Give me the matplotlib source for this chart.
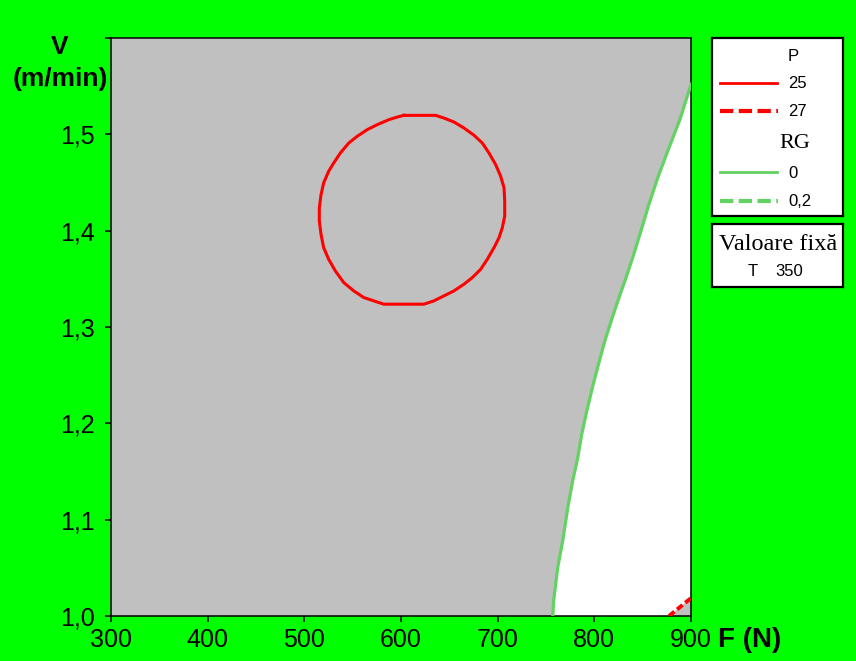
import matplotlib
matplotlib.use("Agg")
import matplotlib.pyplot as plt

# Contour P = 25 (closed curve), F in N, V in m/min
p25_F = [602.9, 635.8, 644.4, 654.8, 665.1, 675.5, 684.1, 691.0, 697.9, 703.1,
         706.6, 707.3, 707.3, 704.8, 701.4, 696.2, 689.3, 682.4, 673.8, 665.1,
         654.8, 644.4, 634.0, 623.7, 582.2, 571.9, 561.5, 551.1, 540.8, 532.1,
         525.2, 520.0, 517.3, 515.5, 515.5, 517.3, 520.0, 525.2, 530.4, 537.3,
         546.0, 554.6, 565.0, 575.3, 587.4, 596.0, 602.9]
p25_V = [1.5197, 1.5197, 1.5169, 1.5128, 1.5066, 1.4991, 1.4910, 1.4807, 1.4686, 1.4565,
         1.4444, 1.4306, 1.4151, 1.4030, 1.3927, 1.3823, 1.3703, 1.3599, 1.3513, 1.3444,
         1.3375, 1.3323, 1.3271, 1.3237, 1.3237, 1.3271, 1.3306, 1.3375, 1.3461, 1.3582,
         1.3703, 1.3823, 1.3961, 1.4099, 1.4237, 1.4375, 1.4496, 1.4617, 1.4703, 1.4807,
         1.4910, 1.4979, 1.5048, 1.5100, 1.5152, 1.5179, 1.5197]

# Contour P = 27 (bottom-right corner)
p27_F = [877.2, 900.0]
p27_V = [1.0, 1.0186]

# Contour RG = 0
rg0_F = [757.0, 758.0, 762.2, 767.4, 772.6, 777.7, 782.9, 787.1, 792.3, 798.5,
         804.7, 810.9, 818.2, 825.4, 832.7, 839.9, 848.2, 856.5, 865.8, 876.2,
         888.6, 900.0]
rg0_V = [1.0, 1.0166, 1.0507, 1.0787, 1.1128, 1.1408, 1.1646, 1.1894, 1.2133, 1.2391,
         1.2629, 1.2857, 1.3085, 1.3302, 1.3509, 1.3727, 1.3996, 1.4275, 1.4555, 1.4834,
         1.5155, 1.5518]

x_ticks = [300, 400, 500, 600, 700, 800, 900]
x_labels = ["300", "400", "500", "600", "700", "800", "900"]
y_ticks = [1.0, 1.1, 1.2, 1.3, 1.4, 1.5, 1.6]
y_labels = ["1,0", "1,1", "1,2", "1,3", "1,4", "1,5", ""]

p_levels = ["25", "27"]
rg_levels = ["0", "0,2"]
hold_name = "T"
hold_value = "350"

GREEN_BG = "#00FF00"
GRAY = "#C0C0C0"
RED = "#FF0000"
LGREEN = "#62D262"

W, H = 856, 661
fig = plt.figure(figsize=(W / 100, H / 100), dpi=100, facecolor=GREEN_BG)


def fx(px):
    return px / W


def fy(py):
    return 1 - py / H


ax = fig.add_axes([fx(111), fy(616), (691 - 111) / W, (616 - 38) / H])
ax.set_facecolor(GRAY)
ax.set_xlim(300, 900)
ax.set_ylim(1.0, 1.598)

# Feasible (white) region: right of RG = 0, above P = 27
white_F = rg0_F + [900.0] + p27_F[::-1]
white_V = rg0_V + [p27_V[1]] + p27_V[::-1]
ax.fill(white_F, white_V, color="white", zorder=1, lw=0)

ax.plot(rg0_F, rg0_V, color=LGREEN, lw=2.3, zorder=3, solid_joinstyle="round")
ax.plot(p25_F, p25_V, color=RED, lw=2.2, zorder=3, solid_joinstyle="round")
ax.plot(p27_F, p27_V, color=RED, lw=2.8, zorder=3, linestyle=(0, (1.8, 0.9)))

ax.set_xticks(x_ticks)
ax.set_xticklabels(x_labels)
ax.set_yticks(y_ticks)
ax.set_yticklabels(y_labels)
for lab in ax.get_xticklabels() + ax.get_yticklabels():
    lab.set_fontfamily("Liberation Sans")
    lab.set_fontsize(18)
ax.tick_params(axis="both", direction="out", length=4.5, width=1.1, color="black")
ax.tick_params(axis="x", pad=4)
ax.tick_params(axis="y", pad=7)
for s in ax.spines.values():
    s.set_linewidth(1.1)
    s.set_color("black")

# Axis titles
fig.text(fx(60), fy(47), "V", ha="center", va="center", fontsize=19,
         fontweight="bold", family="Liberation Sans")
fig.text(fx(60), fy(79), "(m/min)", ha="center", va="center", fontsize=19,
         fontweight="bold", family="Liberation Sans")
fig.text(fx(718), fy(640), "F (N)", ha="left", va="center", fontsize=20,
         fontweight="bold", family="Liberation Sans")

# Legend box with contour levels
lg = fig.add_axes([fx(712), fy(216), (843 - 712) / W, (216 - 38) / H])
lg.set_xlim(712, 843)
lg.set_ylim(216, 38)
lg.set_xticks([])
lg.set_yticks([])
lg.set_facecolor("white")
for s in lg.spines.values():
    s.set_linewidth(1.6)
    s.set_color("black")

lg.text(788, 57, "P", ha="left", va="center", fontsize=12, family="Liberation Sans")
lg.plot([720, 777], [83, 83], color=RED, lw=2.0)
lg.text(788, 84, p_levels[0], ha="left", va="center", fontsize=12, family="Liberation Sans")
lg.plot([720, 778], [111, 111], color=RED, lw=3.0, linestyle=(0, (3.2, 1.3)))
lg.text(788, 112, p_levels[1], ha="left", va="center", fontsize=12, family="Liberation Sans")
lg.text(779, 143, "RG", ha="left", va="center", fontsize=16, family="Liberation Serif")
lg.plot([720, 777], [172, 172], color=LGREEN, lw=2.0)
lg.text(788, 173, rg_levels[0], ha="left", va="center", fontsize=12, family="Liberation Sans")
lg.plot([720, 778], [201, 201], color=LGREEN, lw=3.0, linestyle=(0, (3.2, 1.3)))
lg.text(788, 202, rg_levels[1], ha="left", va="center", fontsize=12, family="Liberation Sans")

# Hold-value box
hb = fig.add_axes([fx(712), fy(287), (843 - 712) / W, (287 - 224) / H])
hb.set_xlim(712, 843)
hb.set_ylim(287, 224)
hb.set_xticks([])
hb.set_yticks([])
hb.set_facecolor("white")
for s in hb.spines.values():
    s.set_linewidth(1.6)
    s.set_color("black")
hb.text(778, 245, "Valoare fixă", ha="center", va="center", fontsize=17.5,
        family="Liberation Serif")
hb.text(748, 272, hold_name, ha="left", va="center", fontsize=12, family="Liberation Sans")
hb.text(775, 272, hold_value, ha="left", va="center", fontsize=12, family="Liberation Sans")

fig.savefig("out.png", dpi=100, facecolor=GREEN_BG)
